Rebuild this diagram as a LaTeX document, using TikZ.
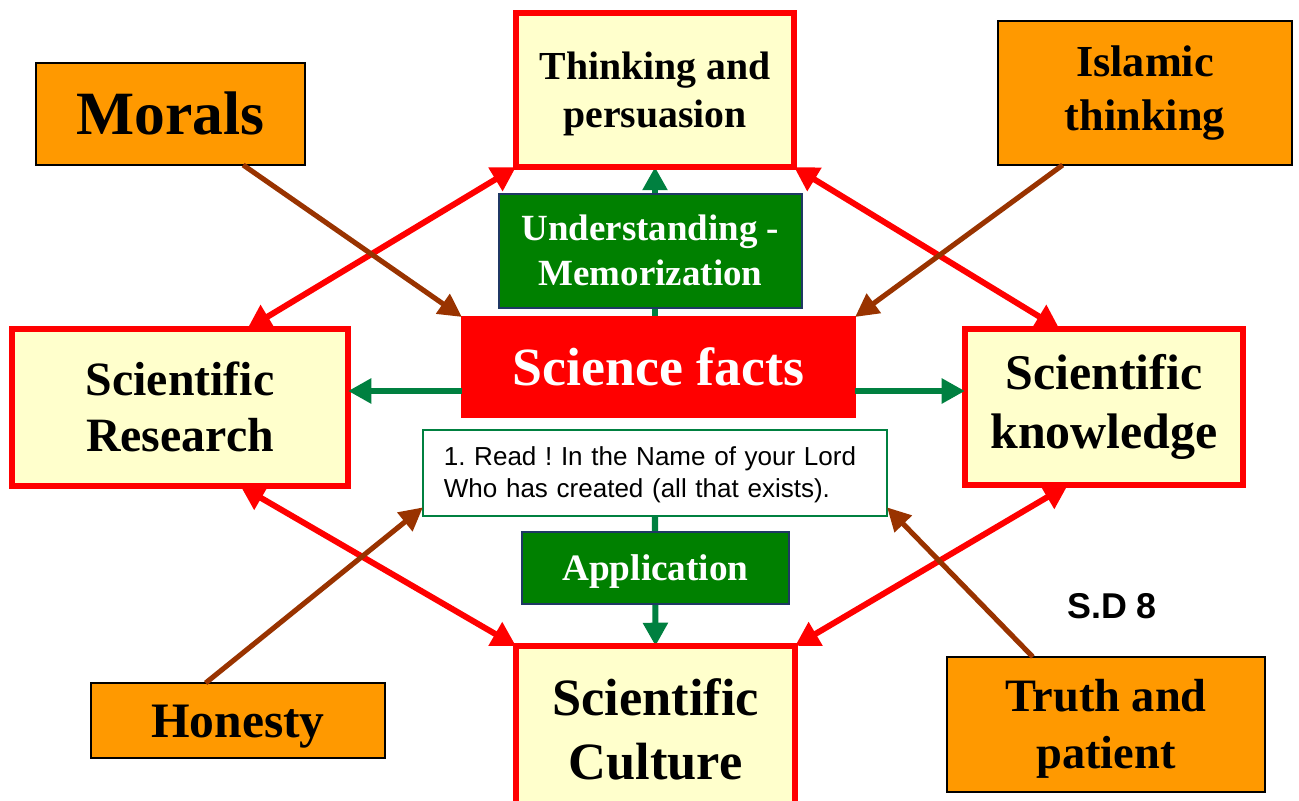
\documentclass[tikz,border=0pt]{standalone}
\usepackage{fontspec}
\setmainfont{Liberation Serif}
\newfontfamily\arialfont{Liberation Sans}
\usepackage{tikz}
\usetikzlibrary{calc}
\usetikzlibrary{arrows.meta}
\usetikzlibrary{backgrounds}
\definecolor{paleyel}{HTML}{FFFFCC}
\definecolor{boxorange}{HTML}{FF9900}
\definecolor{boxgreen}{HTML}{008000}
\definecolor{linkgreen}{HTML}{008040}
\definecolor{edgebrown}{HTML}{993300}
\definecolor{edgenavy}{HTML}{1F3864}
\newcommand{\fs}[2]{\fontsize{#1}{#2}\selectfont}
\newcommand{\pstrut}{\rule[-0.216em]{0pt}{1.107em}}

\begin{document}
\begin{tikzpicture}[x=0.01cm, y=-0.01cm]
% -------------------------------------------------
\tikzset{
  base/.style={draw, align=center, inner sep=0pt, outer sep=0pt, execute at end node=\pstrut},
  topic/.style={base, draw=red, line width=1.7pt, fill=paleyel, text=black},
  value/.style={base, draw=black, line width=0.45pt, fill=boxorange, text=black},
  stage/.style={base, draw=edgenavy, line width=0.6pt, fill=boxgreen, text=white},
  core/.style={base, draw=red, fill=red, text=white},
  verse/.style={base, draw=linkgreen, line width=0.5pt, fill=white, align=left},
  line/.style={draw, line width=1.7pt},
  redline/.style={line, red, {Triangle[length=6.8pt,width=7.4pt]}-{Triangle[length=6.8pt,width=7.4pt]}},
  brownline/.style={line, edgebrown, line width=1.45pt, -{Triangle[length=6.6pt,width=6.6pt]}},
  greenline/.style={line, linkgreen, line width=1.75pt, -{Triangle[length=6.6pt,width=6.8pt]}}
}
\useasboundingbox (0,0) rectangle (1299,801);
% -------------------------------------------------
% Placing the nodes

\node[core, minimum width=3.93cm, minimum height=1cm, font=\bfseries\fs{15.3}{18}]
  (sfacts) at (658.5,367) {Science facts};

\node[topic, minimum width=2.78cm, minimum height=1.54cm, font=\bfseries\fs{11.3}{13.6}]
  (think) at (655,90) {\pstrut Thinking and\\persuasion};
\node[topic, minimum width=3.36cm, minimum height=1.57cm, font=\bfseries\fs{13.6}{15.9}]
  (research) at (180,407.5) {\pstrut Scientific\\Research};
\node[topic, minimum width=2.78cm, minimum height=1.56cm, font=\bfseries\fs{14.2}{17}]
  (knowl) at (1104,407) {Scientific\\knowledge};
\node[topic, minimum width=2.79cm, minimum height=1.68cm, font=\bfseries\fs{14.9}{18.1}]
  (culture) at (655.5,730) {\pstrut Scientific\\Culture};

\node[stage, minimum width=3.03cm, minimum height=1.14cm, font=\bfseries\fs{10.5}{12.8}]
  (underst) at (650.5,251) {\pstrut Understanding -\\Memorization};
\node[stage, minimum width=2.67cm, minimum height=0.72cm, font=\bfseries\fs{10.6}{12.8}]
  (applic) at (655.5,568) {\pstrut Application};

\node[verse, minimum width=4.64cm, minimum height=0.86cm, text width=4.22cm,
  font=\arialfont\frenchspacing\fs{7.4}{9.1}]
  (quote) at (655,473) {\pstrut 1. Read ! In the Name of your Lord\\Who has created (all that exists).};

\node[value, minimum width=2.69cm, minimum height=1.02cm, font=\bfseries\fs{17.5}{21}]
  (morals) at (170.5,114) {\pstrut Morals};
\node[value, minimum width=2.94cm, minimum height=1.44cm, font=\bfseries\fs{12.6}{15.6}]
  (islamic) at (1145,93) {Islamic\\thinking};
\node[value, minimum width=2.94cm, minimum height=0.75cm, font=\bfseries\fs{14.1}{17}]
  (honesty) at (238,720.5) {\pstrut Honesty};
\node[value, minimum width=3.18cm, minimum height=1.35cm, font=\bfseries\fs{13.2}{16.2}]
  (truth) at (1106,724.5) {\pstrut Truth and\\patient};

\node[font=\arialfont\bfseries\fs{10.2}{12}] (sdnote) at (1112,606) {S.D 8};

% -------------------------------------------------
% Connectors
\coordinate (mid) at ($(sfacts.north west)!0.74!(sfacts.south west)$);

\begin{pgfonlayer}{background}
  \path [greenline] (sfacts.north -| think.south) -- (think.south);
  \path [greenline] (quote.south) -- (culture.north);
\end{pgfonlayer}
\path [greenline] (mid) -- (mid -| research.east);
\path [greenline] (mid -| sfacts.east) -- (mid -| knowl.west);

\path [redline] ($(research.north west)!0.7!(research.north east)$) -- (think.south west);
\path [redline] (think.south east) -- ($(knowl.north west)!0.34!(knowl.north east)$);
\path [redline] ($(research.south west)!0.68!(research.south east)$) -- (culture.north west);
\path [redline] (culture.north east) -- ($(knowl.south west)!0.37!(knowl.south east)$);

\path [brownline] ($(morals.south west)!0.77!(morals.south east)$) -- (sfacts.north west);
\path [brownline] ($(islamic.south west)!0.22!(islamic.south east)$) -- (sfacts.north east);
\path [brownline] ($(honesty.north west)!0.39!(honesty.north east)$) -- ($(quote.north west)!0.9!(quote.south west)$);
\path [brownline] ($(truth.north west)!0.27!(truth.north east)$) -- ($(quote.north east)!0.9!(quote.south east)$);

\end{tikzpicture}
\end{document}
